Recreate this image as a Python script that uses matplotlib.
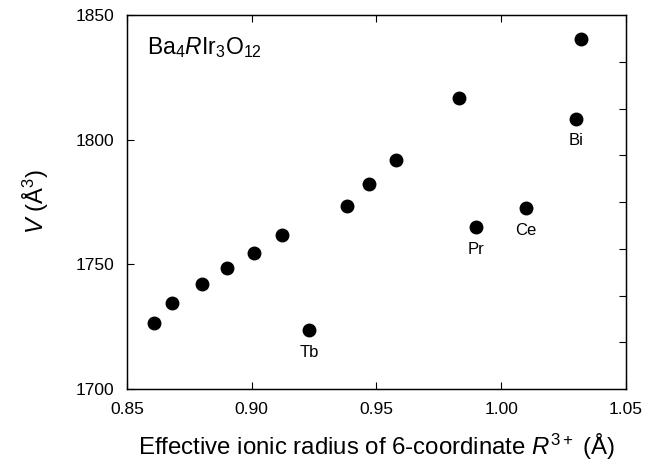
import matplotlib
matplotlib.use("Agg")
import matplotlib.pyplot as plt

plt.rcParams["font.family"] = ["Liberation Sans", "DejaVu Sans"]
plt.rcParams["mathtext.fontset"] = "custom"
plt.rcParams["mathtext.rm"] = "Liberation Sans"
plt.rcParams["mathtext.it"] = "Liberation Sans:italic"

# ionic radius (A) and cell volume (A^3)
radius = [0.861, 0.868, 0.880, 0.890, 0.901, 0.912, 0.923, 0.938, 0.947,
          0.958, 0.983, 0.990, 1.010, 1.030, 1.032]
volume = [1726.4, 1734.4, 1742.1, 1748.4, 1754.7, 1761.8, 1723.7, 1773.4,
          1782.2, 1791.9, 1816.6, 1764.9, 1772.5, 1808.4, 1840.4]
labels = ["", "", "", "", "", "", "Tb", "", "", "", "", "Pr", "Ce", "Bi", ""]

x_ticks = [0.85, 0.90, 0.95, 1.00, 1.05]
y_ticks = [1700, 1750, 1800, 1850]


def main():
    fig = plt.figure(figsize=(6.46, 4.63), dpi=100)
    ax = fig.add_axes([0.1966, 0.1598, 0.7724, 0.8078])

    ax.plot(radius, volume, "o", color="black", markersize=9, linestyle="none")
    for x, y, name in zip(radius, volume, labels):
        if name:
            ax.annotate(name, (x, y), xytext=(0, -16), textcoords="offset points",
                        ha="center", va="center", fontsize=12)

    ax.set_xlim(0.85, 1.05)
    ax.set_ylim(1700, 1850)
    ax.set_xticks(x_ticks)
    ax.set_xticklabels([f"{t:.2f}" for t in x_ticks])
    ax.set_yticks(y_ticks)
    ax.tick_params(direction="in", length=5, width=0.8, labelsize=12.5, pad=9,
                   top=True, right=False)

    # right axis: unlabeled ticks, eight divisions
    right = ax.twinx()
    right.set_ylim(0, 8)
    right.set_yticks(range(1, 8))
    right.set_yticklabels([])
    right.tick_params(direction="in", length=5, width=0.8)

    for spine in ax.spines.values():
        spine.set_linewidth(1.0)

    ax.set_xlabel(r"Effective ionic radius of 6-coordinate $\mathit{R}^{3+}$ (Å)",
                  fontsize=17.3, labelpad=11)
    ax.set_ylabel(r"$\mathit{V}$ (Å$^{3}$)", fontsize=17, labelpad=18)

    ax.text(0.04, 0.945, r"Ba$_{4}$$\mathit{R}$Ir$_{3}$O$_{12}$", transform=ax.transAxes,
            fontsize=16.5, va="top", ha="left")

    fig.savefig("out.png", dpi=100)
    plt.close(fig)


if __name__ == "__main__":
    main()
